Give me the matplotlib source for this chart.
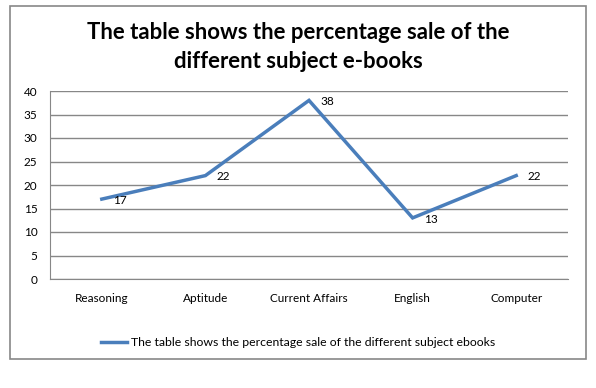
import matplotlib
matplotlib.use("Agg")
import matplotlib.pyplot as plt
from matplotlib.patches import Rectangle

categories = ["Reasoning", "Aptitude", "Current Affairs", "English", "Computer"]
values = [17, 22, 38, 13, 22]
yticks = [0, 5, 10, 15, 20, 25, 30, 35, 40]
title = "The table shows the percentage sale of the\ndifferent subject e-books"
series_name = "The table shows the percentage sale of the different subject ebooks"

plt.rcParams['font.family'] = ['Lato', 'DejaVu Sans']

fig = plt.figure(figsize=(5.96, 3.88), dpi=100)
W, H = 596, 388

# outer chart border
fig.patches.append(Rectangle((10 / W, 1 - 359 / H), (586 - 10) / W, (359 - 6) / H,
                             transform=fig.transFigure, fill=False,
                             edgecolor="#878787", linewidth=1.2))

left, right, top, bottom = 50, 568, 91, 279
ax = fig.add_axes([left / W, 1 - bottom / H, (right - left) / W, (bottom - top) / H])

color = "#4A7EBB"
x = list(range(len(categories)))
ax.plot(x, values, color=color, linewidth=2.5, label=series_name, solid_joinstyle="miter")
for xi, v in zip(x, values):
    ax.annotate(str(v), (xi, v), xytext=(8, -1), textcoords="offset points",
                ha="left", va="center", fontsize=8.5, color="black")

ax.set_xlim(-0.5, len(categories) - 0.5)
ax.set_ylim(0, 40)
ax.set_yticks(yticks)
ax.set_xticks(x)
ax.set_xticklabels(categories, fontsize=8.5)
ax.tick_params(axis="y", labelsize=8.5, length=0, pad=9)
ax.tick_params(axis="x", length=0, pad=10)
ax.grid(axis="y", color="#878787", linewidth=1)
ax.set_axisbelow(True)
for s in ["top", "right"]:
    ax.spines[s].set_visible(False)
ax.spines["left"].set_color("#878787")
ax.spines["bottom"].set_color("#878787")

fig.text(0.5, 1 - 47 / H, title, ha="center", va="center", fontsize=15.9,
         fontweight="bold", linespacing=1.45)

fig.legend(loc="center", bbox_to_anchor=(0.5, 1 - 343 / H), frameon=False,
           fontsize=8.8, handlelength=2.2, handletextpad=0.3)

fig.savefig("out.png", dpi=100)
